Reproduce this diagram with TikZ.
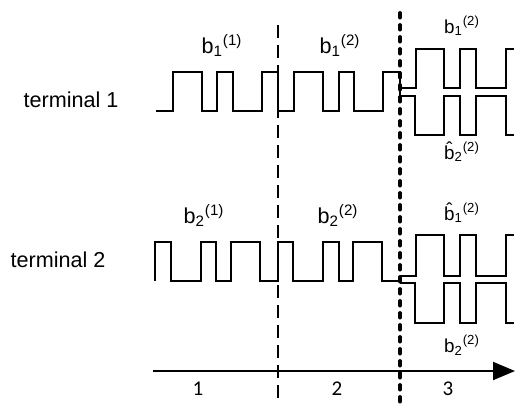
\documentclass[tikz,border=0pt]{standalone}
\usepackage{fontspec}
\setmainfont{Liberation Sans}
\newfontfamily\calib{Carlito}
\usetikzlibrary{arrows.meta}

\begin{document}
\begin{tikzpicture}[
    x=0.5pt,
    y=-0.5pt,
    wave/.style={line width=1pt, line join=miter},
    lbl/.style={inner sep=0pt, anchor=base, font=\fontsize{10.8}{12}\selectfont},
    lblsm/.style={inner sep=0pt, anchor=base, font=\fontsize{9.4}{11}\selectfont},
    num/.style={inner sep=0pt, anchor=base, font=\calib\fontsize{10.5}{12}\selectfont},
    slotline/.style={line width=0.7pt, dash pattern=on 6.5pt off 3.5pt},
    phaseline/.style={line width=1.9pt, line cap=round, dash pattern=on 2.3pt off 3.7pt},
    timeaxis/.style={line width=1pt, -{Triangle[length=11pt,width=9pt]}}
]
\useasboundingbox (0,0) rectangle (515,404);

% ============================================================
% PODZIAŁ NA FAZY
% ============================================================
\coordinate (slotA) at (278,25);
\coordinate (slotB) at (278,404);
\coordinate (phA)   at (400,13);
\coordinate (phB)   at (400,402);
\draw[slotline]  (slotA) -- (slotB);

% oś czasu
\coordinate (t0) at (153,371);
\coordinate (t1) at (515,371);
\draw[timeaxis] (t0) -- (t1);

% ============================================================
% TERMINAL 1
% ============================================================
\draw[wave] (156,111) -- (173,111) -- (173,72) -- (202,72) -- (202,111)
    -- (217,111) -- (217,72) -- (233,72) -- (233,111) -- (262,111)
    -- (262,72) -- (278,72) -- (278,111) -- (294,111) -- (294,72)
    -- (323,72) -- (323,111) -- (339,111) -- (339,72) -- (354,72)
    -- (354,111) -- (383,111) -- (383,72) -- (400,72) -- (400,96);
\draw[wave] (400,88) -- (416,88) -- (416,49) -- (444,49) -- (444,88)
    -- (460,88) -- (460,49) -- (476,49) -- (476,88) -- (506,88)
    -- (506,49) -- (514,49);
\draw[wave] (400,96) -- (415,96) -- (415,135) -- (444,135) -- (444,96)
    -- (460,96) -- (460,135) -- (476,135) -- (476,96) -- (506,96)
    -- (506,135) -- (514,135);

% ============================================================
% TERMINAL 2
% ============================================================
\draw[wave] (155,281) -- (155,242) -- (171,242) -- (171,281) -- (201,281)
    -- (201,242) -- (216,242) -- (216,281) -- (231,281) -- (231,242)
    -- (260,242) -- (260,281) -- (278,281) -- (278,242) -- (293,242)
    -- (293,281) -- (323,281) -- (323,242) -- (339,242) -- (339,281)
    -- (353,281) -- (353,242) -- (382,242) -- (382,281) -- (400,281);
\draw[wave] (400,276) -- (400,283);
\draw[wave] (400,276) -- (416,276) -- (416,235) -- (444,235) -- (444,276)
    -- (460,276) -- (460,235) -- (476,235) -- (476,276) -- (506,276)
    -- (506,235) -- (514,235);
\draw[wave] (400,283) -- (415,283) -- (415,323) -- (444,323) -- (444,283)
    -- (460,283) -- (460,323) -- (476,323) -- (476,283) -- (506,283)
    -- (506,323) -- (514,323);

\draw[phaseline] (phA) -- (phB);

% ============================================================
% PODPISY
% ============================================================
\node[lbl] (term1) at (71,107)  {terminal 1};
\node[lbl] (term2) at (58,267)  {terminal 2};

\node[lbl]   (b11)  at (222,53)  {b\textsubscript{1}\textsuperscript{(1)}};
\node[lbl]   (b12)  at (340,53)  {b\textsubscript{1}\textsuperscript{(2)}};
\node[lblsm] (b12r) at (462,33)  {b\textsubscript{1}\textsuperscript{(2)}};
\node[lblsm] (h22r) at (462,159) {\^{b}\textsubscript{2}\textsuperscript{(2)}};

\node[lbl]   (b21)  at (204,223) {b\textsubscript{2}\textsuperscript{(1)}};
\node[lbl]   (b22)  at (338,223) {b\textsubscript{2}\textsuperscript{(2)}};
\node[lblsm] (h12r) at (462,220) {\^{b}\textsubscript{1}\textsuperscript{(2)}};
\node[lblsm] (b22r) at (462,352) {b\textsubscript{2}\textsuperscript{(2)}};

\node[num] (n1) at (198,395) {1};
\node[num] (n2) at (337,395) {2};
\node[num] (n3) at (448,395) {3};

\end{tikzpicture}
\end{document}
